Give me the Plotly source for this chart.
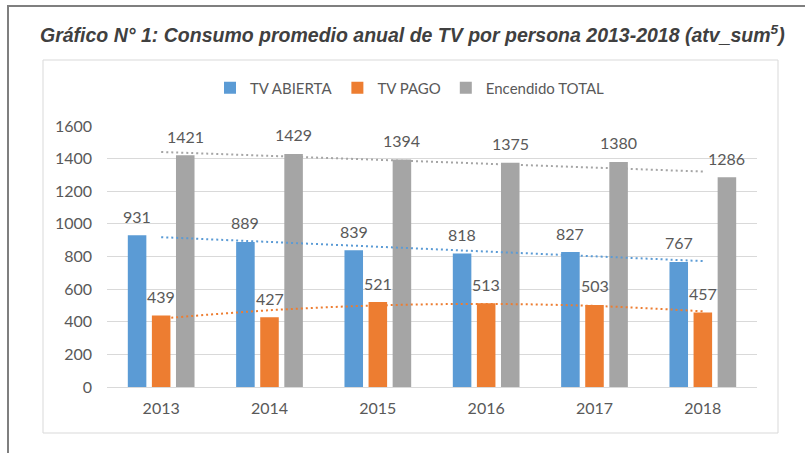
import numpy as np
import plotly.graph_objects as go

years = [2013, 2014, 2015, 2016, 2017, 2018]
tv_abierta = [931, 889, 839, 818, 827, 767]
tv_pago = [439, 427, 521, 513, 503, 457]
encendido_total = [1421, 1429, 1394, 1375, 1380, 1286]

series_names = ["TV ABIERTA", "TV PAGO", "Encendido TOTAL"]
series_values = [tv_abierta, tv_pago, encendido_total]
colors = ["#5B9BD5", "#ED7D31", "#A5A5A5"]
trend_orders = [1, 2, 1]

FONT = "Lato"
TXT = "#595959"

# layout geometry (pixels)
L, R, T, B = 107, 48, 126, 66
W, H = 805, 453
PW, PH = W - L - R, H - T - B
def px(X):
    return (X - L) / PW
def py(Y):
    return (H - B - Y) / PH

bargap, bargroupgap = 0.333, 0.23
slot_px = PW / len(years) * (1 - bargap) / 3

fig = go.Figure()
for name, vals, col in zip(series_names, series_values, colors):
    fig.add_trace(go.Bar(x=years, y=vals, name=name, marker=dict(color=col, line=dict(width=0)),
                         hoverinfo="x+y+name"))

# trendlines (least-squares fits of the series)
idx = np.arange(1, len(years) + 1)
for vals, col, order in zip(series_values, colors, trend_orders):
    coef = np.polyfit(idx, vals, order)
    fit = np.polyval(coef, idx)
    fig.add_trace(go.Scatter(x=years, y=fit, mode="lines", showlegend=False, hoverinfo="skip",
                             line=dict(color=col, width=2, dash="2px,3px", shape="spline")))

# data labels
for k, vals in enumerate(series_values):
    for yr, v in zip(years, vals):
        fig.add_annotation(x=yr, y=v, xref="x", yref="y", text=str(v), showarrow=False,
                           xshift=(k - 1) * slot_px, yshift=19, yanchor="middle",
                           font=dict(family=FONT, size=16, color=TXT))

shapes = [
    # outer frame
    dict(type="line", xref="paper", yref="paper", x0=px(8), x1=px(8), y0=py(5), y1=py(453),
         line=dict(color="#7F7F7F", width=2)),
    dict(type="line", xref="paper", yref="paper", x0=px(8), x1=px(805), y0=py(6), y1=py(6),
         line=dict(color="#7F7F7F", width=2)),
    # chart area border
    dict(type="rect", xref="paper", yref="paper", x0=px(43), x1=px(778), y0=py(433), y1=py(60),
         line=dict(color="#D9D9D9", width=1), layer="below"),
]

fig.update_layout(
    width=W, height=H,
    margin=dict(l=L, r=R, t=T, b=B),
    paper_bgcolor="white", plot_bgcolor="white",
    barmode="group", bargap=bargap, bargroupgap=bargroupgap,
    shapes=shapes,
    title=dict(text="Gráfico N° 1: Consumo promedio anual de TV por persona 2013-2018 (atv_sum<sup>5</sup>)",
               xref="container", yref="container", x=40 / W, xanchor="left", y=1 - 35 / H, yanchor="middle",
               font=dict(family="Liberation Sans", size=19.5, color="#404040", weight="bold", style="italic")),
    legend=dict(orientation="h", x=px(410), xanchor="center", y=py(88), yanchor="middle",
                font=dict(family=FONT, size=15, color=TXT), itemwidth=30, traceorder="normal",
                bgcolor="rgba(0,0,0,0)"),
    xaxis=dict(range=[2012.5, 2018.5], tickvals=years, ticktext=[str(y) for y in years],
               showgrid=False, zeroline=False, showline=False, ticks="",
               tickfont=dict(family=FONT, size=16, color=TXT), ticklabelstandoff=10),
    yaxis=dict(range=[0, 1600], tickvals=list(range(0, 1601, 200)), showgrid=True, gridcolor="#D9D9D9",
               gridwidth=1, zeroline=True, zerolinecolor="#D9D9D9", zerolinewidth=1, showline=False,
               ticks="", tickfont=dict(family=FONT, size=16, color=TXT), ticklabelstandoff=14),
    hovermode="closest",
)

fig.write_html("out.html", config={"displayModeBar": False},
               post_script="document.body.style.margin='0';document.body.style.overflow='hidden';")
